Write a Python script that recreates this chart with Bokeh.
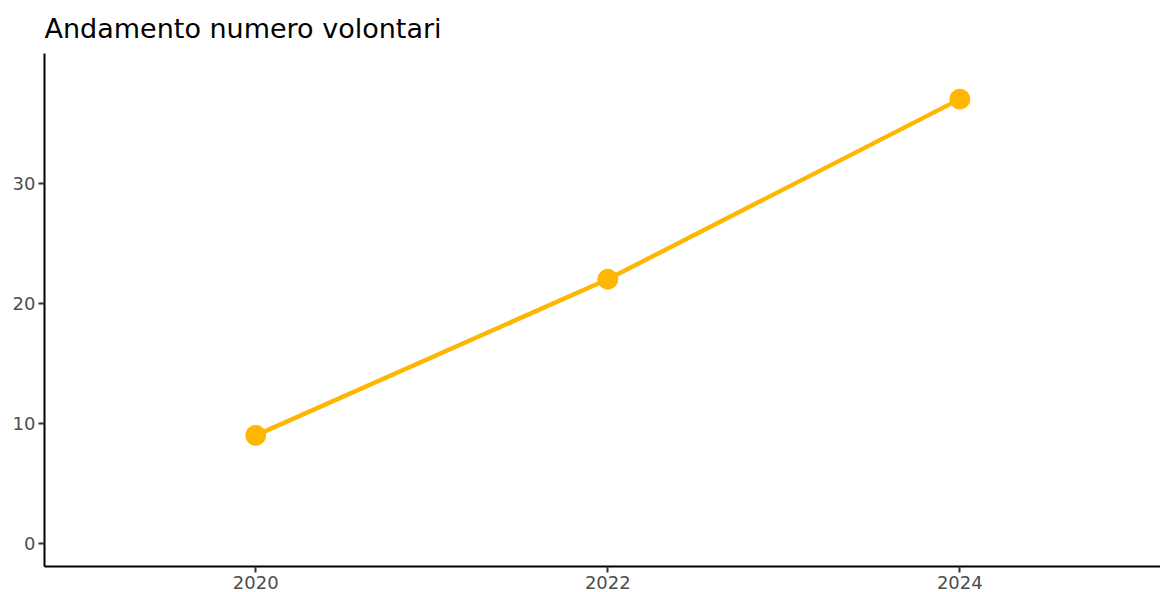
from bokeh.plotting import figure
from bokeh.models import Range1d, FixedTicker, ColumnDataSource
from bokeh.embed import file_html
from bokeh.resources import INLINE

# Data
anni = [2020, 2022, 2024]
volontari = [9, 22, 37]
x_ticks = [2020, 2022, 2024]
y_ticks = [0, 10, 20, 30]
titolo = "Andamento numero volontari"

COL = "#FFB600"
FONT = "DejaVu Sans"

src = ColumnDataSource(dict(anno=anni, n=volontari))

p = figure(width=1160, height=592, output_backend="svg", toolbar_location=None,
           x_range=Range1d(2018.8, 2025.14), y_range=Range1d(-1.92, 40.8),
           title=titolo, min_border_left=44, min_border_right=0,
           min_border_top=53, min_border_bottom=26)

p.title.text_font = FONT
p.title.text_font_size = "27px"
p.title.text_font_style = "normal"
p.title.text_color = "black"
p.title.offset = 0
p.title.standoff = 19

p.line("anno", "n", source=src, line_width=4.4, line_color=COL)
p.scatter("anno", "n", source=src, size=20, fill_color=COL, line_color=COL)

p.xgrid.visible = False
p.ygrid.visible = False
p.outline_line_color = None
p.background_fill_color = "white"
p.border_fill_color = "white"

for ax in (p.xaxis[0], p.yaxis[0]):
    ax.axis_line_color = "black"
    ax.axis_line_width = 2
    ax.major_tick_line_color = "#333333"
    ax.major_tick_line_width = 2
    ax.major_tick_out = 6
    ax.major_tick_in = 0
    ax.minor_tick_line_color = None
    ax.major_label_text_font = FONT
    ax.major_label_text_font_size = "18px"
    ax.major_label_text_color = "#4D4D4D"
    ax.major_label_standoff = 3

p.xaxis[0].ticker = FixedTicker(ticks=x_ticks)
p.yaxis[0].ticker = FixedTicker(ticks=y_ticks)

open("out.html", "w").write(file_html(p, INLINE))
